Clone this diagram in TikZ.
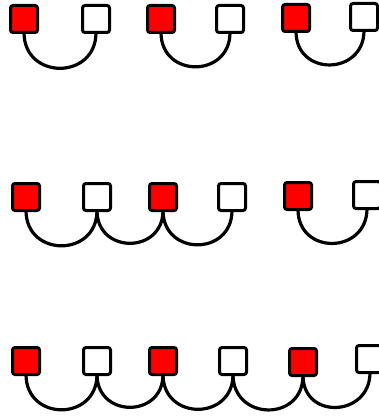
\documentclass[tikz,border=0pt]{standalone}
\begin{document}
\begin{tikzpicture}[x=1pt,y=-1pt,
  sq/.style={draw=black,line width=3pt,rounded corners=2.5pt,minimum width=27pt,minimum height=27pt,inner sep=0pt,outer sep=0pt},
  redsq/.style={sq,fill=red},
  whsq/.style={sq,fill=white},
  link/.style={draw=black,line width=3.2pt,out=-90,in=-90,looseness=1.7}]
\useasboundingbox (0,0) rectangle (379,417);
% row 1
\node[redsq] (a1) at (24,19) {};
\node[whsq] (a2) at (96,19) {};
\node[redsq] (a3) at (161,19) {};
\node[whsq] (a4) at (230,19) {};
\node[redsq] (a5) at (296,18) {};
\node[whsq] (a6) at (364,17) {};
% row 2
\node[redsq] (b1) at (26,197) {};
\node[whsq] (b2) at (97,197) {};
\node[redsq] (b3) at (163,197) {};
\node[whsq] (b4) at (232,197) {};
\node[redsq] (b5) at (298,196) {};
\node[whsq] (b6) at (367,195) {};
% row 3
\node[redsq] (c1) at (26,361) {};
\node[whsq] (c2) at (97,361) {};
\node[redsq] (c3) at (163,361) {};
\node[whsq] (c4) at (233,361) {};
\node[redsq] (c5) at (303,362) {};
\node[whsq] (c6) at (370,359) {};
\draw[link] (a1.south) to (a2.south);
\draw[link] (a3.south) to (a4.south);
\draw[link] (a5.south) to (a6.south);
\draw[link] (b1.south) to (b2.south);
\draw[link] (b2.south) to (b3.south);
\draw[link] (b3.south) to (b4.south);
\draw[link] (b5.south) to (b6.south);
\draw[link] (c1.south) to (c2.south);
\draw[link] (c2.south) to (c3.south);
\draw[link] (c3.south) to (c4.south);
\draw[link] (c4.south) to (c5.south);
\draw[link] (c5.south) to (c6.south);
\end{tikzpicture}
\end{document}
